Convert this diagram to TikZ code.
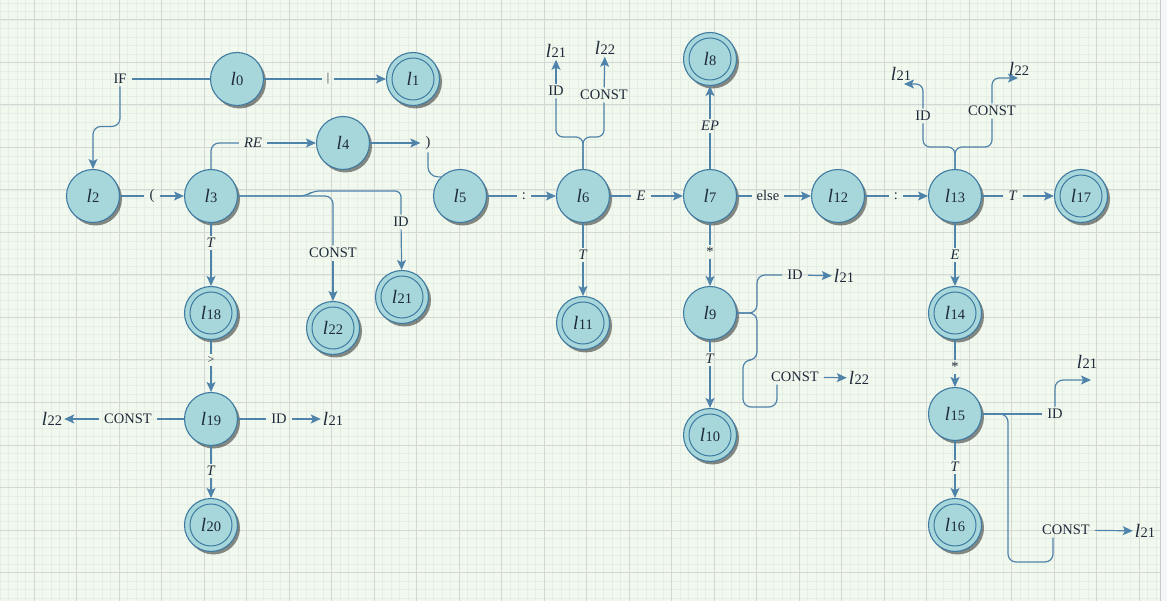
\documentclass[tikz,border=0pt]{standalone}
\usepackage{fontspec}
\setmainfont{Liberation Serif}
\usetikzlibrary{arrows.meta,shadows,calc}
\definecolor{bg}{HTML}{F1F8EE}
\definecolor{gridminor}{HTML}{E5EEE4}
\definecolor{gridmajor}{HTML}{D4D8D4}
\definecolor{nodefill}{HTML}{A7D7DB}
\definecolor{nodeline}{HTML}{3F7BA1}
\definecolor{edgecol}{HTML}{4F83AA}
\definecolor{txt}{HTML}{1E2A3A}
\definecolor{edgeright}{HTML}{F5F6F8}
\newcommand{\lname}[1]{{\fontsize{19}{19}\selectfont\itshape l}\kern0.3pt{\fontsize{14.5}{14.5}\selectfont #1}}
\tikzset{
  st/.style={circle, minimum size=53pt, inner sep=0pt, fill=nodefill, draw=nodeline, line width=1.1pt,
    drop shadow={shadow xshift=2.5pt, shadow yshift=-3pt, fill=black, opacity=0.45}, text=txt},
  acc/.style={st, path picture={\draw[nodeline, line width=1pt] (path picture bounding box.center) circle (21pt);}},
  e/.style={draw=edgecol, line width=1.2pt},
  ea/.style={e, -{Stealth[length=10pt,width=9pt,inset=2.2pt]}},
  lb/.style={inner xsep=5pt, inner ysep=2.5pt, font=\fontsize{14.5}{14.5}\selectfont, text=txt},
  tg/.style={inner sep=2pt, text=txt},
}
\begin{document}
\begin{tikzpicture}[x=1pt,y=-1pt]
\useasboundingbox (0,0) rectangle (1167,601);
% background and grid
\fill[bg] (0,0) rectangle (1160,601);
\fill[edgeright] (1160,0) rectangle (1167,601);
\begin{scope}
\clip (0,0) rectangle (1160,601);
\foreach \i in {0,...,136} \draw[gridminor, line width=0.5pt] (\i*8.5,0) -- (\i*8.5,601);
\foreach \j in {0,...,70} \draw[gridminor, line width=0.5pt] (0,3+\j*8.5) -- (1160,3+\j*8.5);
\foreach \i in {0,...,27} \draw[gridmajor, line width=1pt] (34+\i*42.5,0) -- (34+\i*42.5,601);
\foreach \j in {0,...,14} \draw[gridmajor, line width=1pt] (0,20+\j*42.5) -- (1160,20+\j*42.5);
\end{scope}
\draw[gray!40, line width=0.8pt] (1160,0) -- (1160,601);

% states
\node[st]  (l0)  at (237,79)  {\lname{0}};
\node[acc] (l1)  at (413,79)  {\lname{1}};
\node[st]  (l2)  at (93,196)  {\lname{2}};
\node[st]  (l3)  at (211,196) {\lname{3}};
\node[st]  (l4)  at (343,143) {\lname{4}};
\node[st]  (l5)  at (460,196) {\lname{5}};
\node[st]  (l6)  at (583,196) {\lname{6}};
\node[st]  (l7)  at (710,196) {\lname{7}};
\node[acc] (l8)  at (710,59)  {\lname{8}};
\node[st]  (l9)  at (710,313) {\lname{9}};
\node[acc] (l10) at (710,435) {\lname{10}};
\node[acc] (l11) at (583,323) {\lname{11}};
\node[st]  (l12) at (838,196) {\lname{12}};
\node[st]  (l13) at (955,196) {\lname{13}};
\node[acc] (l14) at (955,313) {\lname{14}};
\node[st]  (l15) at (955,414) {\lname{15}};
\node[acc] (l16) at (955,525) {\lname{16}};
\node[acc] (l17) at (1081,196) {\lname{17}};
\node[acc] (l18) at (211,313) {\lname{18}};
\node[st]  (l19) at (211,419) {\lname{19}};
\node[acc] (l20) at (211,525) {\lname{20}};
\node[acc] (l21) at (402,297) {\lname{21}};
\node[acc] (l22) at (333,328) {\lname{22}};

% labels
\node[lb] (IF) at (120,79) {IF};
\node[lb, font=\fontsize{12}{12}\selectfont] (bar) at (328,79) {|};
\node[lb] (lp) at (152,196) {(};
\node[lb] (RE) at (253,143) {\textit{RE}};
\node[lb] (rp) at (428,143) {)};
\node[lb] (c5) at (524,196) {:};
\node[lb] (E7) at (641,196) {\textit{E}};
\node[lb] (else) at (768,196) {else};
\node[lb] (c12) at (896,196) {:};
\node[lb] (T17) at (1013,196) {\textit{T}};
\node[lb] (EP) at (710,126) {\textit{EP}};
\node[lb] (ID6) at (556,91) {ID};
\node[tg] (t6a) at (556,51) {\lname{21}};
\node[lb] (CO6) at (604,95) {CONST};
\node[tg] (t6b) at (605,48) {\lname{22}};
\node[lb] (ID13) at (923,116) {ID};
\node[tg] (t13a) at (901,74) {\lname{21}};
\coordinate (p13a) at (904,84);
\node[lb] (CO13) at (992,111) {CONST};
\node[tg] (t13b) at (1019,69) {\lname{22}};
\coordinate (p13b) at (1018,78);
\node[lb] (T3) at (211,243) {\textit{T}};
\node[lb] (ID3) at (401,222) {ID};
\node[lb] (CO3) at (333,253) {CONST};
\node[lb, font=\fontsize{12}{12}\selectfont] (gt) at (211,360) {>};
\node[lb] (CO19) at (128,419) {CONST};
\node[tg] (t19a) at (52,419) {\lname{22}};
\node[lb] (ID19) at (279,419) {ID};
\node[tg] (t19b) at (333,419) {\lname{21}};
\node[lb] (T19) at (211,471) {\textit{T}};
\node[lb] (T6) at (583,255) {\textit{T}};
\node[lb] (st7) at (710,252) {*};
\node[lb] (T9) at (710,359) {\textit{T}};
\node[lb] (ID9) at (795,275) {ID};
\node[tg] (t9a) at (844,276) {\lname{21}};
\node[lb] (CO9) at (795,377) {CONST};
\node[tg] (t9b) at (859,378) {\lname{22}};
\node[lb] (E13) at (955,255) {\textit{E}};
\node[lb] (st14) at (955,367) {*};
\node[lb] (T15) at (955,467) {\textit{T}};
\node[lb] (ID15) at (1055,414) {ID};
\node[tg] (t15a) at (1087,362) {\lname{21}};
\coordinate (p15a) at (1091,380);
\node[lb] (CO15) at (1066,530) {CONST};
\node[tg] (t15b) at (1145,531) {\lname{21}};

% helper coordinates
\coordinate (s6) at (583,137);
\coordinate (s13) at (955,147);
\coordinate (j3a) at (306,196);
\coordinate (j3b) at (313,191);
\coordinate (j9) at (757,313);
\coordinate (c9a) at (757,360);
\coordinate (c9b) at (743,360);
\coordinate (c9c) at (743,407);
\coordinate (c9d) at (777,407);
\coordinate (j15) at (1008,414);
\coordinate (c15a) at (1008,562);
\coordinate (c15b) at (1053,562);

% edges
\draw[e] (l0) -- (IF);
\draw[ea, rounded corners=8] (IF.south) -- ++(0,40) -| (l2.north);
\draw[e] (l0) -- (bar); \draw[ea] (bar) -- (l1);
\draw[e] (l2) -- (lp); \draw[ea] (lp) -- (l3);
\draw[e, rounded corners=8] (l3.north) |- (RE.west); \draw[ea] (RE) -- (l4);
\draw[ea] (l4) -- (rp);
\draw[e, rounded corners=10] (rp.south) |- (l5.north west);
\draw[e] (l5) -- (c5); \draw[ea] (c5) -- (l6);
\draw[e] (l6) -- (E7); \draw[ea] (E7) -- (l7);
\draw[e] (l7) -- (else); \draw[ea] (else) -- (l12);
\draw[e] (l12) -- (c12); \draw[ea] (c12) -- (l13);
\draw[e] (l13) -- (T17); \draw[ea] (T17) -- (l17);
\draw[e] (l7) -- (EP); \draw[ea] (EP) -- (l8);

\draw[e, rounded corners=7] (l6.north) -- (s6) -| (ID6.south);
\draw[e, rounded corners=7] (l6.north) -- (s6) -| (CO6.south);
\draw[ea] (ID6) -- (t6a);
\draw[ea] (CO6) -- (t6b);

\draw[e, rounded corners=7] (l13.north) -- (s13) -| (ID13.south);
\draw[e, rounded corners=7] (l13.north) -- (s13) -| (CO13.south);
\draw[ea, rounded corners=7] (ID13.north) |- (p13a);
\draw[ea, rounded corners=7] (CO13.north) |- (p13b);

\draw[e, rounded corners=6] (l3.east) -- (j3a) -- (j3b) -| (ID3.north);
\draw[ea] (ID3) -- (l21);
\draw[e, rounded corners=8] (l3.east) -| (CO3.north);
\draw[ea] (CO3) -- (l22);
\draw[e] (l3) -- (T3); \draw[ea] (T3) -- (l18);
\draw[e] (l18) -- (gt); \draw[ea] (gt) -- (l19);
\draw[e] (l19) -- (CO19); \draw[ea] (CO19) -- (t19a);
\draw[e] (l19) -- (ID19); \draw[ea] (ID19) -- (t19b);
\draw[e] (l19) -- (T19); \draw[ea] (T19) -- (l20);

\draw[e] (l6) -- (T6); \draw[ea] (T6) -- (l11);
\draw[e] (l7) -- (st7); \draw[ea] (st7) -- (l9);
\draw[e] (l9) -- (T9); \draw[ea] (T9) -- (l10);
\draw[e, rounded corners=8] (l9.east) -- (j9) |- (ID9.west);
\draw[ea] (ID9) -- (t9a);
\draw[e, rounded corners=8] (l9.east) -- (j9) -- (c9a) -- (c9b) -- (c9c) -- (c9d) -- (c9d |- CO9.south);
\draw[ea] (CO9) -- (t9b);

\draw[e] (l13) -- (E13); \draw[ea] (E13) -- (l14);
\draw[e] (l14) -- (st14); \draw[ea] (st14) -- (l15);
\draw[e] (l15) -- (T15); \draw[ea] (T15) -- (l16);
\draw[e] (l15) -- (ID15);
\draw[ea, rounded corners=8] (ID15.north) |- (p15a);
\draw[e, rounded corners=8] (l15.east) -- (j15) -- (c15a) -- (c15b) -- (c15b |- CO15.south);
\draw[ea] (CO15) -- (t15b);
\end{tikzpicture}
\end{document}
